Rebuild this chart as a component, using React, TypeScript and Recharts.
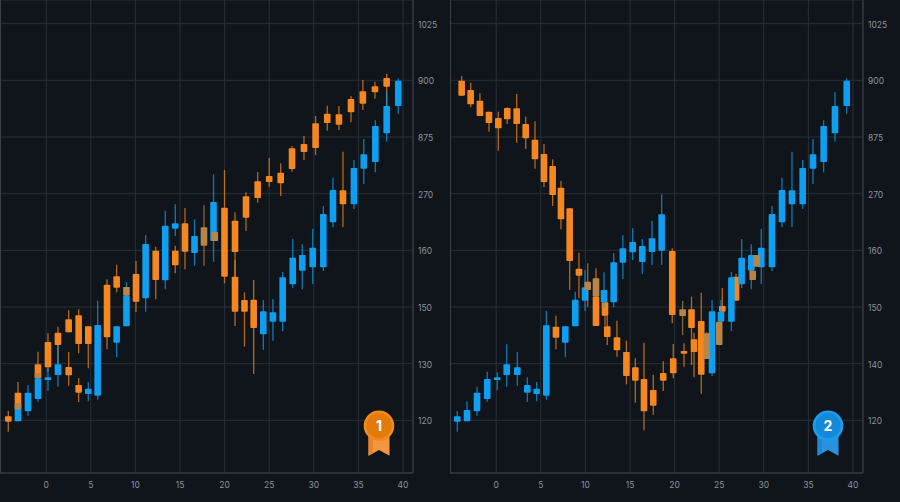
import React from "react";
import { BarChart, Bar, XAxis, YAxis, CartesianGrid, ReferenceLine } from "recharts";

// The price axis is a ladder of unevenly spaced labels: every rung is 170 units.
const leftPriceLabels = ["120", "130", "150", "160", "270", "875", "900", "1025"];
const rightPriceLabels = ["120", "140", "150", "160", "270", "875", "900", "1025"];
const rungTicks = [0, 170, 340, 510, 680, 850, 1020, 1190];
const timeTicks = [0, 5, 10, 15, 20, 25, 30, 35, 40];

type Row = [number, number, number, number, number]; // time, body top, body bottom, high, low

const leftOrange: Row[] = [
  [-4.25, 12, -4, 28, -34], [-3.16, 83, 30, 115, 30], [-0.92, 168, 126, 206, 120],
  [0.2, 235, 159, 261, 146], [1.32, 263, 226, 281, 170], [2.52, 303, 264, 330, 264],
  [2.52, 160, 135, 205, 104], [3.64, 315, 229, 333, 201], [3.64, 106, 83, 127, 55],
  [4.72, 282, 229, 282, 156], [6.82, 407, 249, 423, 213], [7.9, 432, 398, 467, 384],
  [10.07, 439, 356, 478, 325], [12.28, 509, 421, 521, 363], [14.47, 509, 465, 524, 441],
  [15.56, 591, 506, 637, 453], [19.99, 638, 431, 751, 411], [21.17, 599, 505, 624, 431],
  [21.17, 431, 326, 480, 283], [22.23, 361, 326, 384, 221], [22.4, 672, 608, 684, 568],
  [23.26, 362, 277, 421, 139], [23.71, 717, 667, 745, 653], [25.0, 733, 715, 787, 701],
  [26.29, 743, 711, 771, 673], [27.56, 816, 754, 823, 746], [28.9, 829, 805, 853, 781],
  [30.2, 891, 817, 913, 796], [31.51, 920, 892, 944, 869], [32.82, 918, 887, 943, 871],
  [33.27, 690, 648, 806, 580], [34.17, 964, 924, 973, 894], [35.5, 987, 950, 1021, 931],
  [36.86, 1002, 984, 1016, 965], [38.17, 1027, 1001, 1040, 943],
];

const leftBlue: Row[] = [
  [-3.16, 33, -3, 33, -3], [-2.04, 83, 27, 106, 14], [-0.92, 126, 64, 126, 56],
  [0.2, 129, 121, 156, 89], [1.32, 168, 136, 226, 101], [4.72, 95, 79, 115, 57],
  [5.77, 286, 74, 359, 62], [7.9, 282, 233, 282, 189], [9.0, 374, 282, 414, 282],
  [11.15, 529, 366, 556, 326], [13.35, 584, 420, 629, 393], [14.47, 591, 575, 648, 553],
  [16.63, 553, 502, 603, 464], [18.76, 655, 538, 738, 476],
  [24.34, 327, 258, 361, 212], [25.42, 324, 296, 364, 239], [26.51, 429, 296, 445, 268],
  [27.64, 488, 408, 544, 397], [28.71, 496, 449, 528, 393], [29.88, 518, 459, 574, 409],
  [31.07, 619, 459, 643, 448], [32.15, 691, 594, 728, 580], [34.5, 757, 648, 781, 634],
  [35.6, 798, 755, 844, 709], [36.9, 883, 775, 900, 744], [38.17, 943, 861, 984, 836],
  [39.47, 1019, 943, 1026, 920],
];

const leftMuted: Row[] = [
  [-3.16, 51, 33, 51, 33], [-0.92, 141, 126, 141, 126], [9.0, 400, 374, 400, 374],
  [17.69, 579, 524, 645, 464], [18.9, 565, 538, 565, 538],
];

const rightOrange: Row[] = [
  [-3.87, 1019, 974, 1033, 974], [-2.86, 991, 948, 1013, 939], [-1.82, 959, 913, 981, 913],
  [-0.81, 926, 892, 926, 866], [0.24, 907, 876, 926, 809], [1.24, 937, 903, 939, 889],
  [2.3, 936, 889, 979, 833], [3.31, 889, 846, 911, 814], [4.35, 842, 783, 897, 755],
  [5.36, 799, 715, 829, 700], [6.33, 763, 676, 783, 643], [6.7, 281, 248, 314, 213],
  [7.26, 698, 603, 718, 573], [8.24, 636, 478, 636, 391], [9.28, 455, 434, 503, 366],
  [11.19, 371, 283, 456, 283], [12.2, 354, 314, 390, 284], [12.45, 282, 250, 314, 226],
  [13.54, 249, 210, 299, 191], [14.6, 205, 133, 239, 108], [15.6, 159, 119, 186, 53],
  [16.57, 124, 27, 233, -30], [17.61, 91, 44, 137, 17], [18.73, 142, 119, 177, 88],
  [19.74, 508, 316, 516, 291], [19.85, 186, 141, 229, 126], [21.06, 208, 200, 231, 161],
  [21.9, 333, 277, 371, 166], [22.18, 243, 205, 263, 129], [22.99, 298, 137, 383, 80],
  [25.35, 343, 326, 397, 326], [26.89, 431, 359, 439, 359],
];

const rightBlue: Row[] = [
  [-4.36, 12, -4, 28, -34], [-3.27, 31, -3, 57, -3], [-2.15, 83, 27, 101, 14],
  [-1.0, 124, 64, 146, 56], [0.12, 129, 121, 144, 90], [1.18, 168, 136, 228, 101],
  [2.37, 159, 136, 205, 104], [3.49, 106, 83, 129, 55], [4.54, 95, 79, 115, 57],
  [5.62, 285, 74, 329, 62], [7.75, 282, 233, 282, 189], [8.87, 362, 282, 386, 282],
  [9.96, 399, 359, 451, 328], [12.09, 391, 354, 444, 338], [13.17, 474, 354, 501, 339],
  [14.2, 516, 473, 556, 424], [15.3, 535, 504, 576, 481], [16.38, 523, 475, 544, 439],
  [17.47, 546, 505, 598, 466], [18.55, 618, 509, 678, 466], [24.2, 327, 141, 361, 133],
  [25.2, 326, 296, 361, 239], [26.37, 429, 296, 445, 268], [27.52, 488, 408, 544, 397],
  [28.6, 496, 449, 528, 393], [29.72, 518, 459, 574, 409], [30.92, 619, 459, 643, 448],
  [32.04, 691, 594, 728, 580], [33.16, 690, 648, 806, 580], [34.36, 757, 648, 781, 634],
  [35.52, 798, 755, 844, 709], [36.71, 883, 775, 900, 744], [37.98, 943, 861, 984, 836],
  [39.3, 1019, 943, 1026, 920],
];

const rightMuted: Row[] = [
  [10.26, 416, 391, 471, 340], [11.19, 426, 371, 426, 371], [20.9, 333, 313, 358, 256],
  [23.6, 261, 184, 265, 184], [25.0, 296, 226, 296, 226], [28.76, 449, 421, 449, 421],
  [29.2, 496, 461, 496, 461],
];

const ORANGE = "#f4871f";
const BLUE = "#0f9ff0";
const MUTED = "#b98546";
const GRID = "#2a3038";
const EDGE = "#3a414a";
const TEXT = "#8b929b";
const BG = "#10151b";

const toTable = (rows: Row[], color: string) =>
  rows.map(([time, top, bottom, high, low]) => ({ time, top, bottom, high, low, color, range: [low, high] }));

const Candle = (props: any) => {
  const { x, y, width, height, payload } = props;
  const { high, low, top, bottom, color } = payload;
  const perUnit = height / Math.max(1, high - low);
  const cx = x + width / 2;
  const bodyY = y + (high - top) * perUnit;
  const bodyH = Math.max(2, (top - bottom) * perUnit);
  return (
    <g>
      <line x1={cx} x2={cx} y1={y} y2={y + height} stroke={color} strokeWidth={1.3} strokeOpacity={0.72} />
      <rect x={cx - 3.3} y={bodyY} width={6.6} height={bodyH} rx={0.8} fill={color} />
    </g>
  );
};

const Panel = ({ rows, labels, left }: { rows: any[]; labels: string[]; left: number }) => (
  <div style={{ position: "absolute", left, top: 0 }}>
    <BarChart
      width={450}
      height={502}
      data={rows}
      barSize={7}
      margin={{ top: 0, right: 0, bottom: 0, left: 0 }}
    >
      <CartesianGrid stroke={GRID} strokeWidth={1} />
      <XAxis
        type="number"
        dataKey="time"
        domain={[-5.18, 41.12]}
        ticks={timeTicks}
        allowDataOverflow
        height={29}
        tickSize={0}
        tickMargin={9}
        tick={{ fill: TEXT, fontSize: 8.5, fontFamily: "Inter" }}
        axisLine={{ stroke: EDGE }}
      />
      <YAxis
        type="number"
        orientation="right"
        domain={[-158, 1261]}
        ticks={rungTicks}
        allowDataOverflow
        width={37}
        tickSize={0}
        tickMargin={5}
        tickFormatter={(v: number) => labels[rungTicks.indexOf(v)]}
        tick={{ fill: TEXT, fontSize: 8.5, fontFamily: "Inter", dy: 1 }}
        axisLine={{ stroke: EDGE }}
      />
      <ReferenceLine x={-5.13} stroke={EDGE} />
      <Bar dataKey="range" shape={<Candle />} isAnimationActive={false} />
    </BarChart>
  </div>
);

const Medal = ({ label, x, ring, face, ribbon, ribbonDark }: any) => (
  <svg style={{ position: "absolute", left: x - 20, top: 405 }} width={40} height={56}>
    <path d="M9.5 30 V50.7 L20 45 L30.5 50.7 V30 Z" fill={ribbon} />
    <path d="M9.5 30 V50.7 L14 48.3 V30 Z" fill={ribbonDark} />
    <circle cx={20} cy={20.7} r={15.3} fill={ring} />
    <circle cx={20} cy={20.7} r={12.6} fill={face} />
    <text x={20} y={25.6} textAnchor="middle" fill="#fff" fontFamily="Inter" fontWeight={700} fontSize={14}>
      {label}
    </text>
  </svg>
);

const leftRows = [...toTable(leftOrange, ORANGE), ...toTable(leftBlue, BLUE), ...toTable(leftMuted, MUTED)];
const rightRows = [...toTable(rightOrange, ORANGE), ...toTable(rightBlue, BLUE), ...toTable(rightMuted, MUTED)];

export default function App() {
  return (
    <div style={{ position: "fixed", left: 0, top: 0, width: 900, height: 502, background: BG, overflow: "hidden" }}>
      <Panel rows={leftRows} labels={leftPriceLabels} left={0} />
      <Panel rows={rightRows} labels={rightPriceLabels} left={450} />
      <Medal label="1" x={378.7} ring="#f08a1d" face="#e27a0c" ribbon="#f2963f" ribbonDark="#e8842a" />
      <Medal label="2" x={827.7} ring="#1f9ce8" face="#1389da" ribbon="#2a93e0" ribbonDark="#1f86d3" />
    </div>
  );
}
